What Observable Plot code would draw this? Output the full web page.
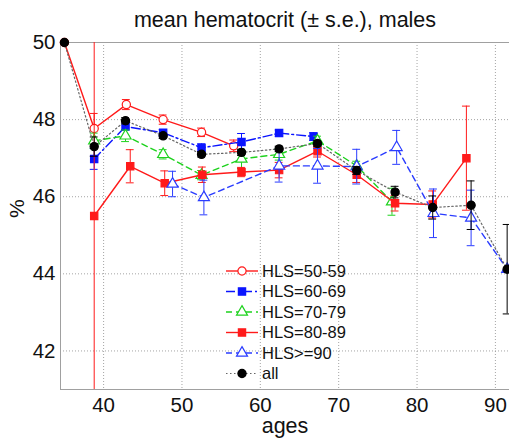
<!DOCTYPE html>
<html>
<head>
<meta charset="utf-8">
<script src="https://cdn.jsdelivr.net/npm/d3@7"></script>
<script src="https://cdn.jsdelivr.net/npm/@observablehq/plot@0.6"></script>
<style>
  html, body { margin: 0; padding: 0; background: #fff; }
  #wrap { position: relative; width: 509px; height: 439px; overflow: hidden; }
  #legend { position: absolute; left: 0; top: 0; }
</style>
</head>
<body>
<div id="wrap"><div id="chart"></div><svg id="legend" width="509" height="439"></svg></div>
<script>
// ---- data ----
const titleText = "mean hematocrit (\u00b1 s.e.), males";
const xLabel = "ages";
const yLabel = "%";
const xTicks = [40, 50, 60, 70, 80, 90];
const yTicks = [42, 44, 46, 48, 50];
const xDomain = [34.5, 91.8];
const yDomain = [41, 50];

const seriesNames = ["HLS=50-59", "HLS=60-69", "HLS=70-79", "HLS=80-89", "HLS>=90", "all"];

const ages5059 = [35, 38.8, 42.9, 47.6, 52.5, 56.6];
const mean5059 = [50.0, 47.77, 48.39, 48.0, 47.67, 47.32];
const se5059   = [0, 0.39, 0.13, 0.12, 0.11, 0.15];

const ages6069 = [38.8, 42.8, 47.6, 52.5, 57.6, 62.4, 66.8];
const mean6069 = [46.98, 47.82, 47.66, 47.27, 47.42, 47.65, 47.56];
const se6069   = [0.27, 0.08, 0.08, 0.1, 0.22, 0.08, 0.1];

const ages7079 = [38.8, 42.8, 47.6, 52.5, 57.6, 62.4, 67.3, 72.3, 76.8];
const mean7079 = [47.45, 47.58, 47.1, 46.56, 46.98, 47.1, 47.45, 46.8, 45.87];
const se7079   = [0.2, 0.15, 0.12, 0.12, 0.25, 0.15, 0.12, 0.12, 0.35];

const ages8089 = [38.8, 43.4, 47.8, 52.6, 57.6, 62.4, 67.3, 72.3, 77.2, 82.0, 86.3];
const mean8089 = [45.5, 46.79, 46.35, 46.57, 46.64, 46.69, 47.18, 46.57, 45.83, 45.8, 47.0];
const se8089   = [10, 0.43, 0.32, 0.2, 0.12, 0.2, 0.15, 0.2, 0.2, 0.35, 1.35];

const ages90 = [48.8, 52.8, 62.4, 67.3, 72.3, 77.4, 82.1, 86.9, 91.5];
const mean90 = [46.33, 45.98, 46.8, 46.8, 46.78, 47.28, 45.57, 45.45, 44.12];
const se90   = [0.33, 0.45, 0.42, 0.45, 0.45, 0.44, 0.63, 0.72, 0];

const agesAll = [35, 38.8, 42.8, 47.6, 52.5, 57.6, 62.4, 67.3, 72.3, 77.2, 82.0, 86.9, 91.5];
const meanAll = [50.0, 47.3, 47.97, 47.58, 47.1, 47.15, 47.24, 47.38, 46.68, 46.12, 45.72, 45.78, 44.12];
const seAll   = [0, 0.25, 0.08, 0.07, 0.07, 0.08, 0.07, 0.08, 0.1, 0.15, 0.3, 0.63, 1.16];

// ---- styles ----
const styles = [
  {color: "#ff1a1a", dash: null,        symbol: "circle",   filled: false, lineColor: "#ff1a1a"},
  {color: "#0a14ff", dash: "9,3,2,3",   symbol: "square",   filled: true,  lineColor: "#0a14ff"},
  {color: "#1ed21e", dash: "6,4",       symbol: "triangle", filled: false, lineColor: "#1ed21e"},
  {color: "#ff1a1a", dash: null,        symbol: "square",   filled: true,  lineColor: "#ff1a1a"},
  {color: "#2a3cff", dash: "6,4",       symbol: "triangle", filled: false, lineColor: "#2a3cff"},
  {color: "#000000", dash: "1.5,2.5",   symbol: "circle",   filled: true,  lineColor: "#666666"}
];
const rawSeries = [
  [ages5059, mean5059, se5059],
  [ages6069, mean6069, se6069],
  [ages7079, mean7079, se7079],
  [ages8089, mean8089, se8089],
  [ages90, mean90, se90],
  [agesAll, meanAll, seAll]
];

const font = "'Liberation Sans', Arial, Helvetica, sans-serif";
const marks = [];

// grid
marks.push(Plot.gridX(xTicks, {stroke: "#9a9a9a", strokeOpacity: 0.9, strokeDasharray: "1,2"}));
marks.push(Plot.gridY(yTicks, {stroke: "#9a9a9a", strokeOpacity: 0.9, strokeDasharray: "1,2"}));
// axes frame (top, bottom, left)
marks.push(Plot.ruleY(yDomain, {stroke: "#a0a0a0", strokeWidth: 1}));
marks.push(Plot.ruleX([xDomain[0]], {stroke: "#a0a0a0", strokeWidth: 1}));

rawSeries.forEach(([ages, means, ses], k) => {
  const st = styles[k];
  const rows = ages.map((a, i) => ({age: a, mean: means[i], se: ses[i]}));
  const eb = rows.filter(d => d.se > 0);
  marks.push(Plot.ruleX(eb, {x: "age", y1: d => d.mean - d.se, y2: d => d.mean + d.se, stroke: st.color, strokeWidth: 1, clip: true}));
  marks.push(Plot.ruleY(eb, {y: d => d.mean - d.se, x1: d => d.age - 0.5, x2: d => d.age + 0.5, stroke: st.color, strokeWidth: 1, clip: true}));
  marks.push(Plot.ruleY(eb, {y: d => d.mean + d.se, x1: d => d.age - 0.5, x2: d => d.age + 0.5, stroke: st.color, strokeWidth: 1, clip: true}));
  marks.push(Plot.line(rows, {x: "age", y: "mean", stroke: st.lineColor, strokeWidth: k === 5 ? 1.2 : 1.4, strokeDasharray: st.dash}));
  marks.push(Plot.dot(rows, {x: "age", y: "mean", symbol: st.symbol, r: 4.1,
    fill: st.filled ? st.color : "white", stroke: st.color, strokeWidth: 1.2}));
});

// axes
marks.push(Plot.axisX(xTicks, {tickSize: 0, tickPadding: 8, fontSize: 20.5, label: null, fill: "#111"}));
marks.push(Plot.axisY(yTicks, {tickSize: 0, tickPadding: 5, fontSize: 20.5, label: null, fill: "#111"}));

// texts
marks.push(Plot.text([titleText], {frameAnchor: "top", dy: -22, fontSize: 21.5, fill: "#111", lineAnchor: "middle"}));
marks.push(Plot.text([xLabel], {frameAnchor: "bottom", dy: 37, fontSize: 21.5, fill: "#111", lineAnchor: "middle"}));
marks.push(Plot.text([yLabel], {frameAnchor: "left", dx: -43, dy: 2, rotate: -90, fontSize: 21, fill: "#111", lineAnchor: "middle"}));

const chart = Plot.plot({
  width: 509,
  height: 439,
  marginLeft: 60,
  marginRight: 0,
  marginTop: 42,
  marginBottom: 50,
  style: {fontFamily: font, background: "white", overflow: "visible"},
  x: {domain: xDomain, axis: null},
  y: {domain: yDomain, axis: null},
  marks
});
document.getElementById("chart").appendChild(chart);

// legend (overlay, no box)
const lg = d3.select("#legend");
const symMap = {circle: d3.symbolCircle, square: d3.symbolSquare, triangle: d3.symbolTriangle};
seriesNames.forEach((name, i) => {
  const st = styles[i];
  const y = 271 + i * 20.5;
  const g = lg.append("g");
  g.append("line").attr("x1", 226).attr("x2", 258).attr("y1", y).attr("y2", y)
    .attr("stroke", st.lineColor).attr("stroke-width", i === 5 ? 1.2 : 1.4)
    .attr("stroke-dasharray", st.dash);
  g.append("path").attr("transform", `translate(242,${y})`)
    .attr("d", d3.symbol(symMap[st.symbol], Math.PI * 4.1 * 4.1)())
    .attr("fill", st.filled ? st.color : "white").attr("stroke", st.color).attr("stroke-width", 1.2);
  g.append("text").attr("x", 262).attr("y", y).attr("dy", "0.35em")
    .attr("font-family", font).attr("font-size", 16.5).attr("fill", "#111").text(name);
});
</script>
</body>
</html>
